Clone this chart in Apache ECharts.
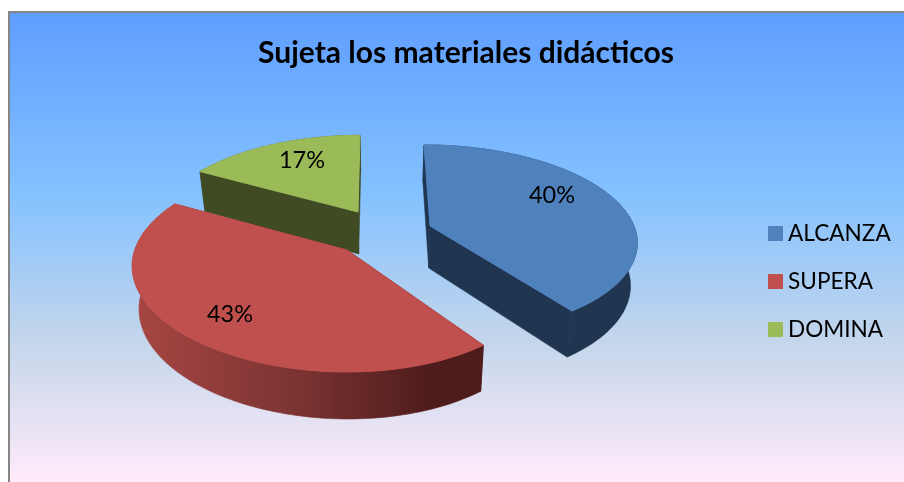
<!DOCTYPE html>
<html>
<head>
<meta charset="utf-8">
<script src="https://cdn.jsdelivr.net/npm/echarts@6/dist/echarts.min.js"></script>
<style>
  html, body { margin: 0; padding: 0; background: #fff; }
  #main { width: 904px; height: 482px; }
</style>
</head>
<body>
<div id="main"></div>
<script>
// datos
const titleText = 'Sujeta los materiales didácticos';
const categories = ['ALCANZA', 'SUPERA', 'DOMINA'];
const values = [40, 43, 17];

const topColors = ['#4f81bd', '#c0504d', '#9bbb59'];
const FONT = 'Lato';

// perspectiva a mano, no hay echarts-gl
const VANISH_X = 384;
const VANISH_K = 0.027;

const total = values.reduce((a, b) => a + b, 0);

// cada porcion explotada tiene su vertice, ancho e inclinacion
const layout = [
  { cx: 430, cy: 226, c: 204, g: 0, e: 0.074, a: 92.8, b: 0.145, labelX: 122, labelY: -31, z: 2 },
  { cx: 347, cy: 250, c: 206, g: -0.03, e: 0, a: 102.7, b: 0.158, labelX: -117, labelY: 64, z: 3 },
  { cx: 358, cy: 212, c: 199, g: 0, e: -0.026, a: 92, b: 0.2, labelX: -56, labelY: -52, z: 1 }
];

function sideFill(i) {
  if (i === 0) return '#1f3550';
  if (i === 2) return '#404a23';
  return new echarts.graphic.LinearGradient(131, 0, 484, 0, [
    { offset: 0, color: '#a84643' },
    { offset: 0.45, color: '#7d3533' },
    { offset: 0.85, color: '#4e1c1b' },
    { offset: 1, color: '#4e1c1b' }
  ], true);
}

function topPoint(i, deg) {
  const p = layout[i];
  const t = deg * Math.PI / 180;
  const k = Math.cos(t), s = Math.sin(t);
  const d = 1 - p.b * s;
  const y = p.a * s / d;
  const x = p.c * k * (1 + p.g * k) / d + p.e * y;
  return { x: p.cx + x, y: p.cy + y, s: s };
}

function lower(pt) {
  return [pt.x + (VANISH_X - pt.x) * VANISH_K, pt.y + 42 + 5 * pt.s];
}

function apexLow(i) {
  return lower({ x: layout[i].cx, y: layout[i].cy, s: 0 });
}

function sliceAngles(i) {
  let start = -90;
  for (let j = 0; j < i; j++) start += values[j] / total * 360;
  return [start, start + values[i] / total * 360];
}

function buildSlice(i) {
  const p = layout[i];
  const ang = sliceAngles(i);
  const arc = [];
  for (let a = ang[0]; a < ang[1]; a += 1.5) arc.push(topPoint(i, a));
  arc.push(topPoint(i, ang[1]));

  const apex = [p.cx, p.cy];
  const first = arc[0], last = arc[arc.length - 1];
  const fill = sideFill(i);
  const children = [];

  // caras de corte
  [first, last].forEach((pt) => {
    const c = i === 1 ? '#4e1c1b' : fill;
    children.push({
      type: 'polygon',
      shape: { points: [apex, [pt.x, pt.y], lower(pt), apexLow(i)] },
      style: { fill: c, stroke: c, lineWidth: 0.6 }
    });
  });

  // pared exterior
  const wall = arc.map((pt) => [pt.x, pt.y]).concat(arc.slice().reverse().map(lower));
  children.push({ type: 'polygon', shape: { points: wall }, style: { fill: fill, stroke: fill, lineWidth: 0.6 } });

  // cara superior
  children.push({
    type: 'polygon',
    shape: { points: [apex].concat(arc.map((pt) => [pt.x, pt.y])) },
    style: { fill: topColors[i], stroke: topColors[i], lineWidth: 1 }
  });

  children.push({
    type: 'text',
    style: {
      text: Math.round(values[i] / total * 100) + '%',
      x: p.cx + p.labelX,
      y: p.cy + p.labelY,
      align: 'center',
      verticalAlign: 'middle',
      fill: '#000',
      font: '23.5px ' + FONT
    }
  });
  return { type: 'group', children: children };
}

const options = {
  animation: false,
  textStyle: { fontFamily: FONT },
  title: {
    text: titleText,
    left: 461,
    top: 33,
    textAlign: 'center',
    textStyle: { fontFamily: FONT, fontSize: 30, fontWeight: 'bold', color: '#000' }
  },
  legend: {
    orient: 'vertical',
    left: 763,
    top: 217,
    itemWidth: 15,
    itemHeight: 15,
    itemGap: 25,
    icon: 'rect',
    textStyle: { fontFamily: FONT, fontSize: 22.6, color: '#000' },
    data: categories
  },
  graphic: [
    {
      type: 'rect',
      z: -10,
      shape: { x: 9, y: 13, width: 895, height: 469 },
      style: {
        fill: new echarts.graphic.LinearGradient(0, 0, 0, 1, [
          { offset: 0, color: '#5e9eff' },
          { offset: 0.39, color: '#85c2ff' },
          { offset: 0.7, color: '#c4d6eb' },
          { offset: 1, color: '#ffebfa' }
        ])
      }
    },
    { type: 'rect', z: -9, shape: { x: 8, y: 11, width: 896, height: 2 }, style: { fill: '#868686' } },
    { type: 'rect', z: -9, shape: { x: 8, y: 11, width: 2, height: 471 }, style: { fill: '#868686' } }
  ],
  series: categories.map((name, i) => ({
    type: 'custom',
    name: name,
    coordinateSystem: 'none',
    z: layout[i].z,
    silent: true,
    itemStyle: { color: topColors[i] },
    data: [values[i]],
    renderItem: () => buildSlice(i)
  }))
};

const chart = echarts.init(document.getElementById('main'));
chart.setOption(options);
</script>
</body>
</html>
